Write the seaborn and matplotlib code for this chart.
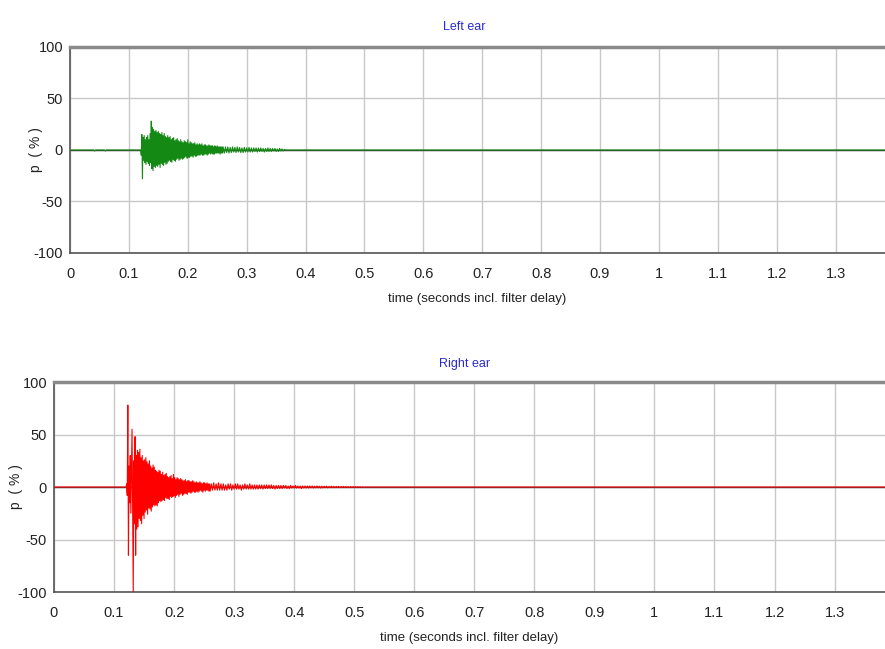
import numpy as np
import pandas as pd
import matplotlib
matplotlib.use("Agg")
import matplotlib.pyplot as plt
import seaborn as sns
from matplotlib.ticker import MultipleLocator

# ---- data (p in %, time in s) ----
# quiet part before the burst: (time, value)
left_pre_t = [0.0, 0.040, 0.042, 0.044, 0.058, 0.060, 0.062, 0.119]
left_pre_v = [0, 0, -1, 0, 0, -1, 0, 0]
right_pre_t = [0.0, 0.119]
right_pre_v = [0, 0]

# burst, sampled every 1 ms from 0.120 s
left_burst = [
    0, -5, 15, -28, 12, -10, 14, -12, 10, -14,
    12, -11, 14, -13, 10, -15, 16, -12, 28, -18,
    22, -20, 20, -16, 18, -17, 19, -15, 17, -16,
    18, -14, 16, -17, 15, -13, 17, -14, 14, -15,
    16, -12, 13, -14, 12, -13, 14, -11, 12, -10,
    13, -11, 10, -12, 11, -9, 12, -10, 9, -11,
    10, -9, 11, -8, 9, -10, 8, -9, 10, -8,
    8, -9, 7, -8, 9, -7, 8, -6, 7, -8,
    10, -7, 6, -7, 8, -6, 7, -6, 6, -7,
    6, -5, 7, -6, 5, -6, 6, -5, 5, -5,
    6, -5, 5, -4, 6, -5, 4, -5, 5, -4,
    5, -4, 4, -5, 4, -4, 5, -3, 4, -4,
    4, -3, 4, -4, 3, -4, 4, -3, 3, -3,
    4, -3, 3, -3, 3, -4, 3, -3, 3, -3,
]
right_burst = [
    0, 3, -8, 78, -65, 20, -15, 30, -25, 18,
    55, -30, -100, 25, -35, 48, -65, 30, -40, 35,
    -38, 33, -30, 36, -32, 28, -35, 30, -27, 25,
    -30, 26, -24, 28, -22, 24, -26, 22, -20, 25,
    -21, 20, -23, 18, -19, 21, -17, 19, -18, 16,
    -17, 15, -18, 14, -15, 16, -13, 15, -14, 12,
    -13, 14, -12, 11, -13, 12, -10, 13, -11, 10,
    -11, 9, -12, 10, -9, 11, -10, 8, -9, 12,
    -8, 9, -10, 7, -8, 9, -7, 8, -9, 7,
    -7, 8, -6, 7, -8, 6, -7, 6, -6, 7,
    -6, 5, -7, 6, -5, 6, -5, 5, -6, 5,
    -5, 6, -4, 5, -5, 4, -5, 5, -4, 4,
    -5, 4, -4, 5, -3, 4, -4, 3, -5, 4,
    -3, 4, -4, 3, -3, 4, -3, 3, -4, 3,
]

# decaying tail, sampled every 2 ms from 0.260 s
left_tail = [
    3, -3, 3, -2.5, 3, -3, 2.5, -2.5, 3, -2,
    2.5, -2.5, 3, -2, 2.5, -2.5, 2, -2.5, 2.5, -2,
    2, -2, 2.5, -2, 2, -2, 2, -1.5, 2, -2,
    2, -1.5, 2, -1.5, 1.5, -2, 1.5, -1.5, 2, -1.5,
    1.5, -1.5, 1.5, -1, 1.5, -1.5, 1, -1.5, 1.5, -1,
    1, -1, 0.5, 0,
]
right_tail = [
    -4, 3, -3, 4, -3, 3, -3, 4, -3, 3,
    -3, 3, -3, 2, -3, 3, -2, 3, -3, 2,
    -2, 3, -2, 3, -2, 2, -3, 2, -2, 3,
    -2, 2, -2, 3, -2, 2, -2, 2, -2, 2,
    -2, 2, -1.5, 2, -2, 2, -1.5, 2, -1.5, 2,
    -1.5, 2, -1.5, 1.5, -2, 1.5, -1.5, 1.5, -1.5, 1.5,
    -1.5, 1.5, -1, 1.5, -1.5, 1, -1.5, 1.5, -1, 1,
    -1, 1.5, -1, 1, -1, 1, -1.5, 1, -1, 1,
    -1, 1, -1, 1, -0.8, 1, -1, 0.8, -0.8, 1,
    -0.8, 0.8, -1, 0.8, -0.8, 0.8, -0.6, 0.8, -0.8, 0.6,
    -0.6, 0.8, -0.6, 0.6, -0.6, 0.6, -0.5, 0.6, -0.6, 0.5,
    -0.5, 0.6, -0.5, 0.5, -0.5, 0.4, -0.5, 0.5, -0.4, 0.4,
    -0.4, 0.4, -0.3, 0.4, -0.3, 0.3, -0.3, 0.2, -0.2, 0,
]

# after the decay, nearly flat
left_post_t = [0.40, 0.80, 0.95, 1.0, 1.384]
left_post_v = [0, 0, 0, 0, 0]
right_post_t = [0.60, 0.80, 1.0, 1.2, 1.384]
right_post_v = [0, 0, 0, 0, 0]

x_ticks = [0, 0.1, 0.2, 0.3, 0.4, 0.5, 0.6, 0.7, 0.8, 0.9, 1, 1.1, 1.2, 1.3]
x_tick_labels = ["0", "0.1", "0.2", "0.3", "0.4", "0.5", "0.6", "0.7",
                 "0.8", "0.9", "1", "1.1", "1.2", "1.3"]
y_ticks = [-100, -50, 0, 50, 100]
y_tick_labels = ["-100", "-50", "0", "50", "100"]


def build(pre_t, pre_v, burst, tail, post_t, post_v):
    t_burst = 0.120 + 0.001 * np.arange(len(burst))
    t_tail = 0.260 + 0.002 * np.arange(len(tail))
    t = np.concatenate([pre_t, t_burst, t_tail, post_t])
    v = np.concatenate([pre_v, burst, tail, post_v])
    return pd.DataFrame({"time": t, "p": v})


left_df = build(left_pre_t, left_pre_v, left_burst, left_tail, left_post_t, left_post_v)
right_df = build(right_pre_t, right_pre_v, right_burst, right_tail, right_post_t, right_post_v)

sns.set_theme(style="white")
plt.rcParams["font.family"] = ["Liberation Sans", "DejaVu Sans"]
plt.rcParams["axes.unicode_minus"] = False

fig = plt.figure(figsize=(8.85, 6.49), dpi=100)
ax1 = fig.add_axes([0.0791, 0.6102, 0.9209, 0.3174])
ax2 = fig.add_axes([0.0610, 0.0878, 0.9390, 0.3236])

panels = [
    (ax1, left_df, "#148a14", "Left ear", 0.958, -0.033),
    (ax2, right_df, "#ff0000", "Right ear", 0.439, -0.037),
]

for ax, df, color, title, title_y, ylab_x in panels:
    ax.axhline(0, color="#404040", lw=1.0, zorder=1)
    sns.lineplot(data=df, x="time", y="p", ax=ax, color=color, lw=0.8,
                 estimator=None, sort=False, zorder=3)
    ax.set_xlim(0, 1.384)
    ax.set_ylim(-100, 100)
    ax.set_xticks(x_ticks)
    ax.set_xticklabels(x_tick_labels)
    ax.set_yticks(y_ticks)
    ax.set_yticklabels(y_tick_labels)
    ax.xaxis.set_minor_locator(MultipleLocator(0.02))
    ax.yaxis.set_minor_locator(MultipleLocator(10))
    ax.grid(True, which="major", color="#c8c8c8", lw=1.0)
    ax.tick_params(axis="both", which="major", direction="out", length=3,
                   width=0.8, color="#555555", labelsize=10.5, pad=2,
                   labelcolor="#222222")
    ax.tick_params(axis="both", which="minor", direction="in", length=3,
                   width=0.8, color="#777777")
    ax.tick_params(axis="x", which="major", pad=7)
    for side in ["left", "bottom"]:
        ax.spines[side].set_color("#555555")
        ax.spines[side].set_linewidth(1.2)
    ax.spines["top"].set_color("#8a8a8a")
    ax.spines["top"].set_linewidth(2.5)
    ax.spines["right"].set_visible(False)
    ax.set_xlabel("time (seconds incl. filter delay)", fontsize=9.5,
                  color="#222222", labelpad=9)
    ax.set_ylabel("p  ( % )", fontsize=10, color="#222222")
    ax.yaxis.set_label_coords(ylab_x, 0.5)
    fig.text(0.525, title_y, title, ha="center", va="center",
             fontsize=9, color="#2a2ad0")

fig.savefig("out.png", dpi=100)
